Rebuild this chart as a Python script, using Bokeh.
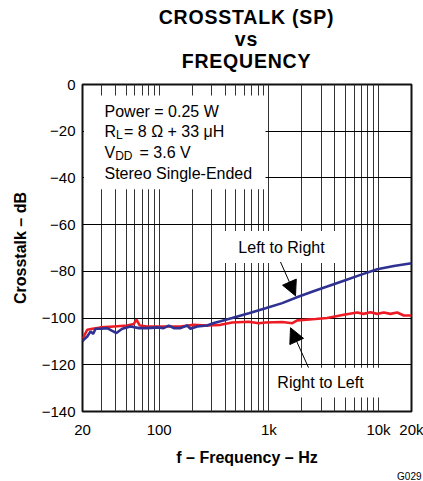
from bokeh.plotting import figure
from bokeh.models import FixedTicker, Label, Arrow, NormalHead, BoxAnnotation, Title, Div
from bokeh.layouts import column
from bokeh.embed import file_html
from bokeh.resources import INLINE

# ---------------- data ----------------
lr_freq = [20, 20.5, 22.1, 23.7, 25.0, 26.3, 29.2, 33.6, 37.3, 40.8, 46.0, 54.8, 65.3, 77.8,
           98.2, 109.6, 122.5, 136, 156.6, 180, 193, 222, 274, 315, 363, 463, 658, 933,
           1324, 1880, 2667, 3405, 4830, 6856, 9730, 13804, 20000]
lr_db = [-110.0, -109.3, -107.9, -105.7, -106.8, -104.6, -104.6, -104.3, -105.5, -106.4, -104.6,
         -103.6, -104.3, -104.3, -104.0, -104.3, -103.2, -104.3, -104.3, -103.2, -104.6, -103.6,
         -103.2, -102.1, -101.4, -100.0, -97.9, -95.8, -93.6, -90.8, -88.2, -86.5, -84.0, -81.5,
         -79.1, -77.7, -76.5]

rl_freq = [20, 20.5, 22.1, 24.7, 29.2, 38.6, 51.1, 58.7, 62.2, 66.6, 77.8, 109.6, 156.6, 207,
           274, 363, 463, 658, 811, 933, 1324, 1637, 1816, 2667, 3405, 4830, 6398, 7311, 8454,
           9730, 11170, 12850, 14790, 17020, 20000]
rl_db = [-109.0, -107.9, -105.0, -104.6, -104.0, -103.6, -103.2, -102.5, -100.7, -103.2, -103.6,
         -103.6, -103.6, -102.9, -103.2, -102.9, -101.9, -101.6, -102.2, -101.9, -101.7, -102.2,
         -101.0, -100.4, -100.0, -98.6, -97.6, -98.2, -97.5, -98.2, -97.6, -98.2, -97.6, -98.9,
         -98.9]

x_tick_values = [20, 100, 1000, 10000, 20000]
x_tick_labels = ["20", "100", "1k", "10k", "20k"]
y_tick_values = [0, -20, -40, -60, -80, -100, -120, -140]
y_tick_labels = ["0", "\u221220", "\u221240", "\u221260", "\u221280", "\u2212100", "\u2212120", "\u2212140"]

title_lines = ["CROSSTALK (SP)", "vs", "FREQUENCY"]

grid_x = [m * 10 ** e for e in (1, 2, 3, 4) for m in range(1, 10) if 20 <= m * 10 ** e <= 20000]

FONT = "Liberation Sans"
BLUE = "#2e3192"
RED = "#ed1c24"

# frame position on the page (pixels)
FL, FR, FT, FB = 82, 411, 84, 412
W, H = 423, 481
HEAD_H = 72  # height of the title block above the figure


# page-pixel -> data helpers for annotation placement
def px_to_f(px):
    return 20 * 10 ** ((px - FL) * 3 / (FR - FL))


def py_to_db(py):
    return -(py - FT) * 140 / (FB - FT)


# ---------------- title block (centred over the plot frame) ----------------
pad_left = int(round(2 * ((FL + FR) / 2) - W))
head = Div(
    text="<div style=\"display:block; box-sizing:border-box; width:%dpx; text-align:center; "
         "padding-left:%dpx; padding-top:6px; font-family:'%s'; font-weight:bold; font-size:19.5px; "
         "letter-spacing:0.8px; line-height:22px; color:black;\">%s</div>"
         % (W, pad_left, FONT, "<br>".join(title_lines)),
    width=W, height=HEAD_H, margin=0)

p = figure(width=W, height=H - HEAD_H, x_axis_type="log", x_range=(20, 20000), y_range=(-140, 0),
           output_backend="svg", toolbar_location=None, margin=0,
           min_border_left=FL, min_border_right=W - FR, min_border_top=FT - HEAD_H,
           min_border_bottom=H - FB)

p.outline_line_color = "#111111"
p.outline_line_width = 2

# grids
p.xgrid.ticker = FixedTicker(ticks=grid_x)
p.xgrid.grid_line_color = "#333333"
p.xgrid.grid_line_width = 1
p.ygrid.ticker = FixedTicker(ticks=y_tick_values)
p.ygrid.grid_line_color = "black"
p.ygrid.grid_line_width = 1

# axes
for ax in (p.xaxis[0], p.yaxis[0]):
    ax.axis_line_color = None
    ax.major_tick_line_color = None
    ax.minor_tick_line_color = None
    ax.major_tick_in = 0
    ax.major_tick_out = 0
    ax.major_label_text_font = FONT
    ax.major_label_text_font_size = "15px"
    ax.major_label_text_color = "black"
    ax.axis_label_text_font = FONT
    ax.axis_label_text_font_size = "16px"
    ax.axis_label_text_font_style = "bold"
    ax.axis_label_text_color = "black"

p.xaxis.ticker = FixedTicker(ticks=x_tick_values)
p.xaxis.major_label_overrides = {v: l for v, l in zip(x_tick_values, x_tick_labels)}
p.xaxis.axis_label = "f \u2013 Frequency \u2013 Hz"
p.xaxis.major_label_standoff = 9
p.xaxis.axis_label_standoff = 8

p.yaxis.ticker = FixedTicker(ticks=y_tick_values)
p.yaxis.major_label_overrides = {v: l for v, l in zip(y_tick_values, y_tick_labels)}
p.yaxis.axis_label = "Crosstalk \u2013 dB"
p.yaxis.major_label_standoff = 7
p.yaxis.axis_label_standoff = 10

# figure id below the x axis, at the right
p.add_layout(Title(text="G029", align="right", offset=-10, standoff=0, text_font=FONT,
                   text_font_size="10px", text_font_style="normal", text_color="black"), "below")

# curves
p.line(rl_freq, rl_db, line_color=RED, line_width=2.6)
p.line(lr_freq, lr_db, line_color=BLUE, line_width=2.6)

# white boxes behind annotation texts
for l, r, t, b in [(83.5, 265, 95, 189), (222, 338, 231, 263), (270, 409.5, 368, 398)]:
    p.add_layout(BoxAnnotation(left=px_to_f(l), right=px_to_f(r), top=py_to_db(t), bottom=py_to_db(b),
                               fill_color="white", fill_alpha=1.0, line_color=None))


def lab(px, py, text, size="16px", align="left", style="normal", x_offset=0, baseline="middle"):
    p.add_layout(Label(x=px_to_f(px), y=py_to_db(py), text=text, text_font=FONT, text_font_size=size,
                       text_align=align, text_baseline=baseline, text_color="black",
                       text_font_style=style, x_offset=x_offset))


# condition block
lab(104, 111, "Power = 0.25 W")
lab(104, 131.5, "R")
lab(104, 134.5, "L", size="12px", x_offset=11.5)
lab(104, 131.5, "= 8 \u03a9 + 33 \u03bcH", x_offset=19.5)
lab(104, 152.5, "V")
lab(104, 155.5, "DD", size="12px", x_offset=10.7)
lab(104, 152.5, "= 3.6 V", x_offset=35)
lab(104, 173, "Stereo Single-Ended")

# curve labels
lab(281, 247, "Left to Right", align="center")
lab(320, 383, "Right to Left", align="center")

# arrows
for (x0, y0), (x1, y1) in [((280, 262), (295, 296)), ((308, 368), (290, 328))]:
    p.add_layout(Arrow(x_start=px_to_f(x0), y_start=py_to_db(y0), x_end=px_to_f(x1), y_end=py_to_db(y1),
                       line_color="black", line_width=1,
                       end=NormalHead(size=15, fill_color="black", line_color="black", line_width=1)))

layout = column(head, p, spacing=0, margin=0)
open("out.html", "w").write(file_html(layout, INLINE))
